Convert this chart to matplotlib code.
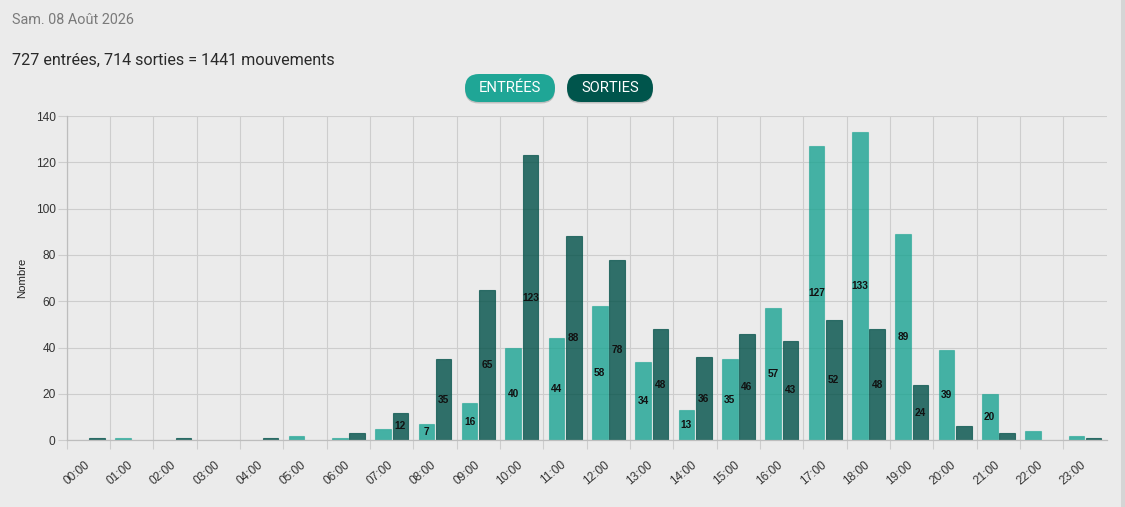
import numpy as np
import matplotlib.pyplot as plt
from matplotlib.patches import FancyBboxPatch, Rectangle

hours = ["%02d:00" % h for h in range(24)]
entrees = [0, 1, 0, 0, 0, 2, 1, 5, 7, 16, 40, 44, 58, 34, 13, 35, 57, 127, 133, 89, 39, 20, 4, 2]
sorties = [1, 0, 1, 0, 1, 0, 3, 12, 35, 65, 123, 88, 78, 48, 36, 46, 43, 52, 48, 24, 6, 3, 0, 1]
date_text = "Sam. 08 Août 2026"
summary = "%d entrées, %d sorties = %d mouvements" % (sum(entrees), sum(sorties), sum(entrees) + sum(sorties))
y_ticks = [0, 20, 40, 60, 80, 100, 120, 140]

BG = "#ebebeb"
TEAL = (26 / 255, 163 / 255, 146 / 255)
DARK = (0, 80 / 255, 72 / 255)
GRID = "#cdcdcd"
W, H = 1125, 507

plt.rcParams["font.family"] = ["Liberation Sans", "DejaVu Sans"]

fig = plt.figure(figsize=(W / 100, H / 100), dpi=100, facecolor=BG)

# overlay in pixel coords for header and buttons
ov = fig.add_axes([0, 0, 1, 1], zorder=0)
ov.set_xlim(0, W)
ov.set_ylim(H, 0)
ov.axis("off")
ov.text(12, 20, date_text, fontsize=10.4, color="#7a7a7a", family="Roboto", va="center", ha="left")
ov.text(12, 60, summary, fontsize=11.6, color="#2a2a2a", family="Roboto", va="center", ha="left")


def button(x0, x1, y0, y1, color, label):
    h = y1 - y0
    shadow = FancyBboxPatch((x0, y0 + 1.5), x1 - x0, h, boxstyle="round,pad=0,rounding_size=%f" % (h / 2),
                            facecolor=(0, 0, 0, 0.18), edgecolor="none")
    ov.add_patch(shadow)
    box = FancyBboxPatch((x0, y0), x1 - x0, h, boxstyle="round,pad=0,rounding_size=%f" % (h / 2),
                         facecolor=color, edgecolor="none")
    ov.add_patch(box)
    ov.text((x0 + x1) / 2, (y0 + y1) / 2, label, color="white", fontsize=10.6, family="Roboto",
            ha="center", va="center")


button(465, 555, 74, 102, "#1fa696", "ENTRÉES")
button(567, 653, 74, 102, "#00554c", "SORTIES")
ov.add_patch(Rectangle((1121, 0), 4, H, facecolor="#d5d5d5", edgecolor="none"))

# chart
left, right, top, bottom = 66.7, 1106.7, 116, 440.3
ax = fig.add_axes([left / W, 1 - bottom / H, (right - left) / W, (bottom - top) / H], zorder=1)
ax.set_facecolor("none")

x = np.arange(len(hours))
bw = 0.36
ec_in = [TEAL + (0.55,) if v > 0 else "none" for v in entrees]
ec_out = [DARK + (0.7,) if v > 0 else "none" for v in sorties]
ax.bar(x + 0.3, entrees, width=bw, color=TEAL + (0.8,), edgecolor=ec_in, linewidth=0.8, zorder=2)
ax.bar(x + 0.7, sorties, width=bw, color=DARK + (0.8,), edgecolor=ec_out, linewidth=0.8, zorder=2)

for i in range(len(hours)):
    if entrees[i] >= 7:
        ax.text(x[i] + 0.3, entrees[i] / 2, str(entrees[i]), ha="center", va="center",
                fontsize=7.3, weight="bold", color="#111111", zorder=3)
    if sorties[i] >= 7:
        ax.text(x[i] + 0.7, sorties[i] / 2, str(sorties[i]), ha="center", va="center",
                fontsize=7.3, weight="bold", color="#111111", zorder=3)

ax.set_xlim(0, 24)
ax.set_ylim(0, 140)
ax.set_yticks(y_ticks)
ax.set_xticks(x)
ax.set_xticklabels([""] * len(hours))
ax.grid(color=GRID, linewidth=0.8)
ax.set_axisbelow(True)
ax.tick_params(axis="both", length=6.5, color=GRID, width=0.8, labelsize=8.6, labelcolor="#333333")
ax.tick_params(axis="y", pad=1.5)
for s in ["top", "right"]:
    ax.spines[s].set_visible(False)
for s in ["left", "bottom"]:
    ax.spines[s].set_color("#bdbdbd")
    ax.spines[s].set_linewidth(0.9)

for i, lab in enumerate(hours):
    ax.text(i + 0.226, -32.5 / (bottom - top), lab, transform=ax.get_xaxis_transform(),
            rotation=40, ha="center", va="center", fontsize=8.6, color="#333333")

fig.text(22 / W, 1 - 278 / H, "Nombre", rotation=90, ha="center", va="center", fontsize=8.2, color="#222222")

fig.savefig("out.png", dpi=100, facecolor=BG)
